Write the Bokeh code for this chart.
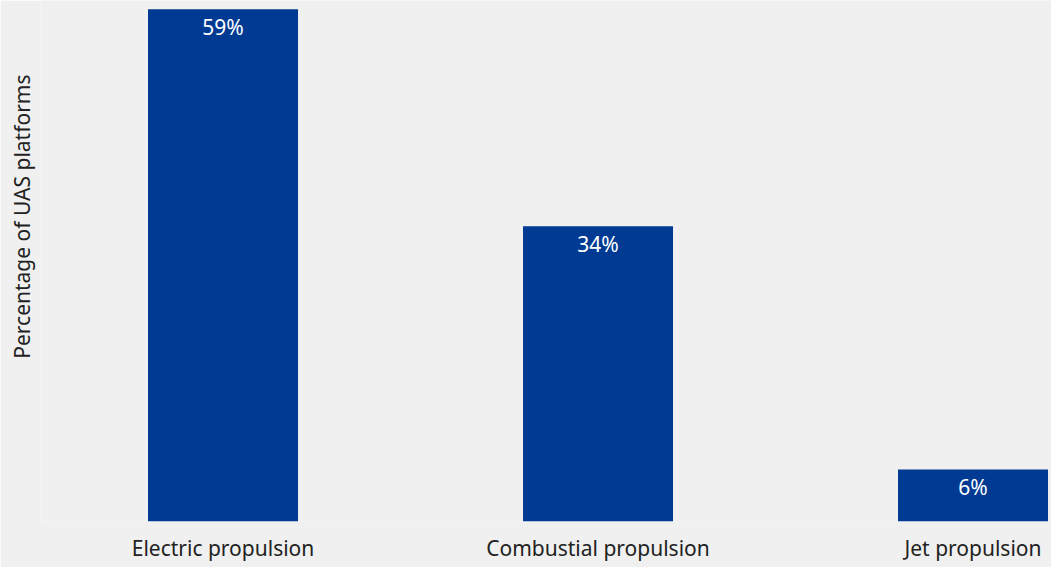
from bokeh.plotting import figure
from bokeh.models import ColumnDataSource, FixedTicker, Title, Range1d
from bokeh.core.properties import value
from bokeh.embed import file_html
from bokeh.resources import INLINE

categories = ["Electric propulsion", "Combustial propulsion", "Jet propulsion"]
shares = [59, 34, 6]
labels = ["59%", "34%", "6%"]

positions = list(range(len(categories)))
src = ColumnDataSource(dict(x=positions, y=shares, label=labels))

BG = "#f0f0f0"
BAR = "#003a92"
FONT = "Noto Sans"
FS = "21px"

p = figure(width=1051, height=567, output_backend="svg", toolbar_location=None,
           x_range=Range1d(-0.4867, 2.2093), y_range=Range1d(0, 60),
           background_fill_color=BG, border_fill_color=BG,
           min_border_left=35, min_border_right=0, min_border_top=0, min_border_bottom=46)
p.outline_line_color = None
p.grid.visible = False
p.yaxis.visible = False

p.vbar(x="x", top="y", width=0.4, bottom=0, source=src,
       fill_color=BAR, line_color=None)

p.text(x="x", y="y", text="label", source=src, text_align="center", text_baseline="top",
       y_offset=4, text_color="white", text_font=value(FONT), text_font_size=FS)

ax = p.xaxis[0]
ax.ticker = FixedTicker(ticks=positions)
ax.major_label_overrides = {i: c for i, c in enumerate(categories)}
ax.axis_line_color = None
ax.major_tick_line_color = None
ax.minor_tick_line_color = None
ax.major_tick_out = 0
ax.major_tick_in = 0
ax.major_label_standoff = 12
ax.major_label_text_font = FONT
ax.major_label_text_font_size = FS
ax.major_label_text_color = "#222222"

p.add_layout(Title(text="Percentage of UAS platforms", align="right", offset=74,
                   text_font=FONT, text_font_size=FS, text_font_style="normal",
                   text_color="#222222"), "left")

open("out.html", "w").write(file_html(p, INLINE))
